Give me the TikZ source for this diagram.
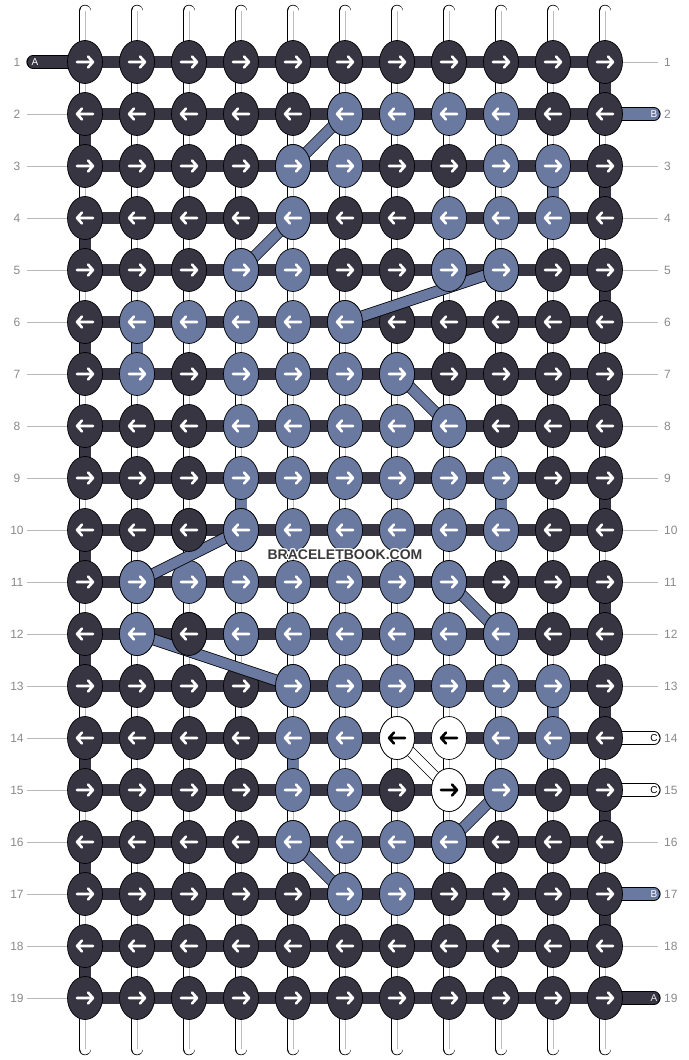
\documentclass[tikz,border=0pt]{standalone}
\usepackage{fontspec}
\setmainfont{Liberation Sans}
\usetikzlibrary{shapes.geometric}
\definecolor{cD}{HTML}{373542}
\definecolor{cB}{HTML}{6A79A0}
\definecolor{cW}{HTML}{FFFFFF}
\colorlet{aD}{white}
\colorlet{aB}{white}
\colorlet{aW}{black}
\definecolor{lblgray}{HTML}{8A8A8A}
\definecolor{warpgray}{HTML}{BDBDBD}
\definecolor{wmark}{HTML}{3A3A3A}
\tikzset{
 knot/.style={ellipse,draw=black,line width=0.7pt,minimum width=35pt,minimum height=43pt,inner sep=0pt},
 barout/.style={line width=12.6pt,draw=black},
 barin/.style={line width=11.2pt},
 stubout/.style={line width=13.2pt,draw=black,line cap=round},
 stubin/.style={line width=11.2pt,line cap=round},
 numlbl/.style={text=lblgray,font=\fontsize{12}{14}\selectfont,inner sep=0pt},
 rowline/.style={draw=lblgray!60,line width=0.8pt},
 arr/.style={line width=2.6pt,line cap=round,line join=round},
 stublbl/.style={font=\fontsize{10}{11}\selectfont,inner sep=0pt},
 wmtext/.style={font=\bfseries\fontsize{14}{16}\selectfont,inner sep=0pt},
}
\newcommand\drawknot[4]{%
 \node[knot,fill=c#3] (#4-#1-#2) at (p-#1-#2) {};
 \ifodd#1\relax
   \draw[arr,color=a#3,shift={(p-#1-#2)}] (-8,0) -- (8,0) (3,-5.5) -- (8,0) -- (3,5.5);
 \else
   \draw[arr,color=a#3,shift={(p-#1-#2)}] (8,0) -- (-8,0) (-3,-5.5) -- (-8,0) -- (-3,5.5);
 \fi}
\begin{document}
\begin{tikzpicture}[x=1pt,y=-1pt]
\useasboundingbox (0,0) rectangle (688,1060);
\fill[white] (0,0) rectangle (688,1060);
% grid coordinates
\foreach \r in {1,...,19}{
 \foreach \c in {1,...,11}{
  \coordinate (p-\r-\c) at ({85+52*(\c-1)},{62+52*(\r-1)});
 }}
% warp strings
\foreach \c in {1,...,11}{
 \coordinate (wt-\c) at ({85+52*(\c-1)},11);
 \coordinate (wb-\c) at ({85+52*(\c-1)},1049);
 \draw[line width=12.4pt,line cap=round,black] (wt-\c) -- (wb-\c);
 \draw[line width=11pt,line cap=round,white] (wt-\c) -- (wb-\c);
 \draw[line width=0.8pt,warpgray] (wt-\c) -- (wb-\c);
}
% row bars
\foreach \r in {1,...,19}{
 \draw[barout] (p-\r-1) -- (p-\r-11);
 \draw[barin,cD] (p-\r-1) -- (p-\r-11);
}
% stubs
\coordinate (sA1) at (33,62);
\coordinate (sA19) at (654,998);
\coordinate (sB2) at (654,114);
\coordinate (sB17) at (654,894);
\coordinate (sC14) at (654,738);
\coordinate (sC15) at (654,790);
\draw[stubout] (sA1) -- (p-1-1);
\draw[stubin,cD] (sA1) -- (p-1-1);
\draw[stubout] (sA19) -- (p-19-11);
\draw[stubin,cD] (sA19) -- (p-19-11);
\draw[stubout] (sB2) -- (p-2-11);
\draw[stubin,cB] (sB2) -- (p-2-11);
\draw[stubout] (sB17) -- (p-17-11);
\draw[stubin,cB] (sB17) -- (p-17-11);
\draw[stubout] (sC14) -- (p-14-11);
\draw[stubin,white] (sC14) -- (p-14-11);
\draw[stubout] (sC15) -- (p-15-11);
\draw[stubin,white] (sC15) -- (p-15-11);
\node[stublbl,text=white] (lA1) at (35,62.5) {A};
\node[stublbl,text=white!90!black] (lA19) at (654,998.5) {A};
\node[stublbl,text=white] (lB2) at (654,114.5) {B};
\node[stublbl,text=white] (lB17) at (654,894.5) {B};
\node[stublbl,text=black] (lC14) at (654,738.5) {C};
\node[stublbl,text=black] (lC15) at (654,790.5) {C};
% edge turns
\foreach \r in {2,4,...,18}{
 \pgfmathtruncatemacro\s{\r+1}
 \draw[line width=12.4pt,black] (p-\r-1) -- (p-\s-1);
 \draw[line width=11pt,cD] (p-\r-1) -- (p-\s-1);
}
\foreach \r in {1,3,...,17}{
 \pgfmathtruncatemacro\s{\r+1}
 \draw[line width=12.4pt,black] (p-\r-11) -- (p-\s-11);
 \draw[line width=11pt,cD] (p-\r-11) -- (p-\s-11);
}
% blue verticals
\foreach \a/\b/\c in {3/4/10,6/7/2,9/10/4,9/10/9,13/14/10,14/15/5}{
 \draw[line width=12.4pt,black] (p-\a-\c) -- (p-\b-\c);
 \draw[line width=11pt,cB] (p-\a-\c) -- (p-\b-\c);
}
% knots
\foreach \r/\row in {
 1/{D,D,D,D,D,D,D,D,D,D,D},
 2/{D,D,D,D,D,B,B,B,B,D,D},
 3/{D,D,D,D,B,B,D,D,B,B,D},
 4/{D,D,D,D,B,D,D,B,B,B,D},
 5/{D,D,D,B,B,D,D,B,B,D,D},
 6/{D,B,B,B,B,B,D,D,D,D,D},
 7/{D,B,D,B,B,B,B,D,D,D,D},
 8/{D,D,D,B,B,B,B,B,D,D,D},
 9/{D,D,D,B,B,B,B,B,B,D,D},
 10/{D,D,D,B,B,B,B,B,B,D,D},
 11/{D,B,B,B,B,B,B,B,D,D,D},
 12/{D,B,D,B,B,B,B,B,B,D,D},
 13/{D,D,D,D,B,B,B,B,B,B,D},
 14/{D,D,D,D,B,B,W,W,B,B,D},
 15/{D,D,D,D,B,B,D,W,B,D,D},
 16/{D,D,D,D,B,B,B,B,D,D,D},
 17/{D,D,D,D,D,B,B,D,D,D,D},
 18/{D,D,D,D,D,D,D,D,D,D,D},
 19/{D,D,D,D,D,D,D,D,D,D,D}}{
 \foreach \k [count=\c] in \row {
  \drawknot{\r}{\c}{\k}{n}
 }}
% diagonal strands
\foreach \ra/\ca/\rb/\cb in {2/6/3/5,4/5/5/4,5/9/6/6,7/7/8/8,10/4/11/2,11/8/12/9,12/2/13/5,15/9/16/8,16/5/17/6}{
 \draw[line width=11.6pt,black] (n-\ra-\ca.center) -- (n-\rb-\cb.center);
 \draw[line width=10pt,cB] (n-\ra-\ca.center) -- (n-\rb-\cb.center);
}
\draw[line width=10.6pt,black] (n-14-7.center) -- (n-15-8.center);
\draw[line width=9pt,white] (n-14-7.center) -- (n-15-8.center);
% knots lying over the strands
\foreach \r/\c/\k in {2/6/B,3/5/B,4/5/B,5/4/B,5/9/B,6/6/B,5/8/B,7/7/B,8/8/B,10/4/B,11/2/B,10/3/D,11/8/B,12/9/B,12/2/B,13/5/B,12/3/D,12/4/B,14/7/W,15/8/W,15/9/B,16/8/B,16/5/B,17/6/B}{
 \drawknot{\r}{\c}{\k}{m}
}
% row numbers and guide lines
\foreach \r in {1,...,19}{
 \node[numlbl] (lnum-\r) at (17,{62+52*(\r-1)}) {\r};
 \node[numlbl,anchor=west] (rnum-\r) at (664,{62+52*(\r-1)}) {\r};
}
\foreach \r in {2,...,19}{
 \coordinate (ll-\r) at (27,{62+52*(\r-1)});
 \draw[rowline] (ll-\r) -- (n-\r-1.west);
}
\foreach \r in {1,3,4,5,6,7,8,9,10,11,12,13,16,18}{
 \coordinate (rl-\r) at (658,{62+52*(\r-1)});
 \draw[rowline] (n-\r-11.east) -- (rl-\r);
}
% watermark
\foreach \dx/\dy [count=\i] in {-1/0,1/0,0/-1,0/1,-1/-1,1/1,-1/1,1/-1}{
 \node[wmtext,text=white] (wh-\i) at ({345+\dx},{555+\dy}) {BRACELETBOOK.COM};
}
\node[wmtext,text=wmark] (wm) at (345,555) {BRACELETBOOK.COM};
\end{tikzpicture}
\end{document}
